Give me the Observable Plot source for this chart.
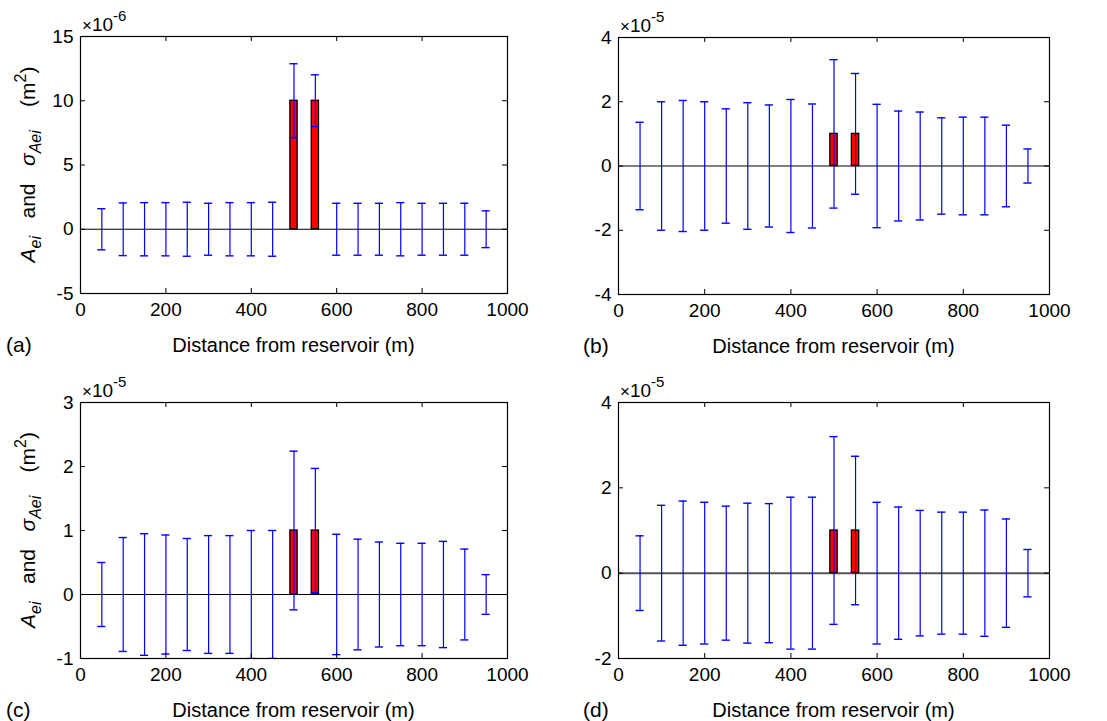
<!DOCTYPE html>
<html><head><meta charset="utf-8">
<script src="https://cdn.jsdelivr.net/npm/d3@7"></script>
<script src="https://cdn.jsdelivr.net/npm/@observablehq/plot@0.6"></script>
<style>
body{margin:0;background:#fff;font-family:"Liberation Sans",Arial,sans-serif;}
#wrap{position:relative;width:1107px;height:721px;overflow:hidden;background:#fff;}
.panel{position:absolute;}
.panel svg{overflow:visible;}
</style></head><body><div id="wrap"></div>
<script>
// Distance from reservoir (m)
const distances = [50,100,150,200,250,300,350,400,450,500,550,600,650,700,750,800,850,900,950];
// Panel (a): values in units of 1e-6 m^2
const areaA  = [0,0,0,0,0,0,0,0,0,10,10,0,0,0,0,0,0,0,0];
const sigmaA = [1.6,2.05,2.07,2.07,2.1,2.02,2.07,2.07,2.1,2.88,2.02,2.02,2.02,2.02,2.07,2.02,2.02,2.02,1.43];
// Panel (b): units of 1e-5 m^2
const areaB  = [0,0,0,0,0,0,0,0,0,1,1,0,0,0,0,0,0,0,0];
const sigmaB = [1.36,2.0,2.04,2.0,1.78,1.97,1.9,2.07,1.93,2.31,1.88,1.92,1.71,1.68,1.5,1.52,1.52,1.27,0.53];
// Panel (c): units of 1e-5 m^2
const areaC  = [0,0,0,0,0,0,0,0,0,1,1,0,0,0,0,0,0,0,0];
const sigmaC = [0.5,0.89,0.95,0.93,0.875,0.92,0.92,1.0,1.0,1.24,0.97,0.94,0.865,0.82,0.8,0.8,0.83,0.71,0.31];
// Panel (d): units of 1e-5 m^2
const areaD  = [0,0,0,0,0,0,0,0,0,1,1,0,0,0,0,0,0,0,0];
const sigmaD = [0.875,1.59,1.69,1.66,1.57,1.64,1.63,1.78,1.78,2.2,1.74,1.66,1.55,1.47,1.43,1.43,1.48,1.27,0.555];

const xTicks = [0,200,400,600,800,1000];
const yTicksA = [-5,0,5,10,15];
const yTicksB = [-4,-2,0,2,4];
const yTicksC = [-1,0,1,2,3];
const yTicksD = [-2,0,2,4];
const exponents = ["-6","-5","-5","-5"];
const panelLabels = ["(a)","(b)","(c)","(d)"];
const xLabel = "Distance from reservoir (m)";

const FONT = '"Liberation Sans", Arial, sans-serif';
const barHalf = 8.5, capHalf = 9.5;

function makePanel(cfg) {
  const {left, top, ml, mt, pw, ph, area, sigma, ydom, yticks, exp, label, showYLabel, zeroStroke} = cfg;
  const rows = distances.map((x, j) => ({x, a: area[j], s: sigma[j]}));
  const mr = 20, mb = 70;
  const W = ml + pw + mr, H = mt + ph + mb;
  const T = 5;
  const plot = Plot.plot({
    width: W, height: H,
    marginLeft: ml, marginTop: mt, marginRight: mr, marginBottom: mb,
    style: {fontFamily: FONT, fontSize: "19px", color: "black", background: "transparent", overflow: "visible"},
    x: {domain: [0, 1000]},
    y: {domain: ydom},
    marks: [
      Plot.ruleY([0], {stroke: zeroStroke || "black", strokeWidth: zeroStroke ? 2 : 1.2}),
      Plot.rect(rows.filter(d => d.a !== 0), {x1: d => d.x - barHalf, x2: d => d.x + barHalf, y1: 0, y2: "a", fill: "#ff0000", stroke: "black", strokeWidth: 1.3}),
      Plot.ruleX(rows, {x: "x", y1: d => d.a - d.s, y2: d => d.a + d.s, stroke: "#0000ff", strokeWidth: 1.2, clip: true}),
      Plot.ruleY(rows, {y: d => d.a + d.s, x1: d => d.x - capHalf, x2: d => d.x + capHalf, stroke: "#0000ff", strokeWidth: 1.4, clip: true}),
      Plot.ruleY(rows, {y: d => d.a - d.s, x1: d => d.x - capHalf, x2: d => d.x + capHalf, stroke: "#0000ff", strokeWidth: 1.4, clip: true}),
      Plot.axisX({ticks: xTicks, tickSize: 0, tickPadding: 9, tickFormat: d => String(d), label: null, fontSize: 19}),
      Plot.axisY({ticks: yticks, tickSize: 0, tickPadding: 7, tickFormat: d => String(d), label: null, fontSize: 19}),
      Plot.ruleX(xTicks, {x: d => d, insetTop: ph - T, stroke: "black"}),
      Plot.ruleX(xTicks, {x: d => d, insetBottom: ph - T, stroke: "black"}),
      Plot.ruleY(yticks, {y: d => d, insetRight: pw - T, stroke: "black"}),
      Plot.ruleY(yticks, {y: d => d, insetLeft: pw - T, stroke: "black"}),
      Plot.frame({stroke: "black", strokeWidth: 1.2})
    ]
  });
  const div = document.createElement("div");
  div.className = "panel";
  div.style.left = left + "px";
  div.style.top = top + "px";
  div.appendChild(plot);
  document.getElementById("wrap").appendChild(div);
  const svg = d3.select(plot);

  // exponent label
  const ex = svg.append("text").attr("x", ml + 2).attr("y", mt - 5).attr("text-anchor", "start")
    .attr("font-family", FONT).attr("font-size", 19).attr("fill", "black");
  ex.append("tspan").attr("font-size", 17).text("\u00d7");
  ex.append("tspan").text("10");
  ex.append("tspan").attr("font-size", 15).attr("dy", -10).text(exp);

  // x label
  svg.append("text").attr("x", ml + pw / 2).attr("y", mt + ph + 59)
    .attr("text-anchor", "middle").attr("font-family", FONT).attr("font-size", 20).attr("fill", "black")
    .text(xLabel);
  // panel label
  svg.append("text").attr("x", left === 0 ? 6 : 33).attr("y", mt + ph + 59).attr("text-anchor", "start")
    .attr("font-family", FONT).attr("font-size", 21).attr("fill", "black")
    .text(label);

  if (showYLabel) {
    const t = svg.append("text")
      .attr("transform", `translate(35,${mt + ph / 2}) rotate(-90)`)
      .attr("text-anchor", "middle").attr("font-family", FONT).attr("font-size", 21).attr("fill", "black");
    const parts = [
      {s: "A", it: true},
      {s: "ei", it: true, sub: true},
      {s: "\u00a0\u00a0\u00a0and\u00a0\u00a0\u00a0"},
      {s: "\u03c3", it: true},
      {s: "Aei", it: true, sub: true},
      {s: "\u00a0\u00a0\u00a0\u00a0(m"},
      {s: "2", sup: true},
      {s: ")"}
    ];
    let cur = 0;
    for (const p of parts) {
      const target = p.sub ? 6 : p.sup ? -9 : 0;
      const ts = t.append("tspan").attr("dy", target - cur).text(p.s);
      cur = target;
      if (p.it) ts.attr("font-style", "italic");
      if (p.sub || p.sup) ts.attr("font-size", 16);
    }
  }
}

makePanel({left: 0, top: 0, ml: 80, mt: 36, pw: 427, ph: 257, area: areaA, sigma: sigmaA, ydom: [-5, 15], yticks: yTicksA, exp: exponents[0], label: panelLabels[0], showYLabel: true});
makePanel({left: 550, top: 0, ml: 68, mt: 37, pw: 431, ph: 257, area: areaB, sigma: sigmaB, ydom: [-4, 4], yticks: yTicksB, exp: exponents[1], label: panelLabels[1], showYLabel: false});
makePanel({left: 0, top: 360, ml: 80, mt: 42, pw: 427, ph: 256, area: areaC, sigma: sigmaC, ydom: [-1, 3], yticks: yTicksC, exp: exponents[2], label: panelLabels[2], showYLabel: true});
makePanel({left: 550, top: 360, ml: 68, mt: 42, pw: 431, ph: 256, area: areaD, sigma: sigmaD, ydom: [-2, 4], yticks: yTicksD, exp: exponents[3], label: panelLabels[3], showYLabel: false, zeroStroke: "#555"});
</script></body></html>
